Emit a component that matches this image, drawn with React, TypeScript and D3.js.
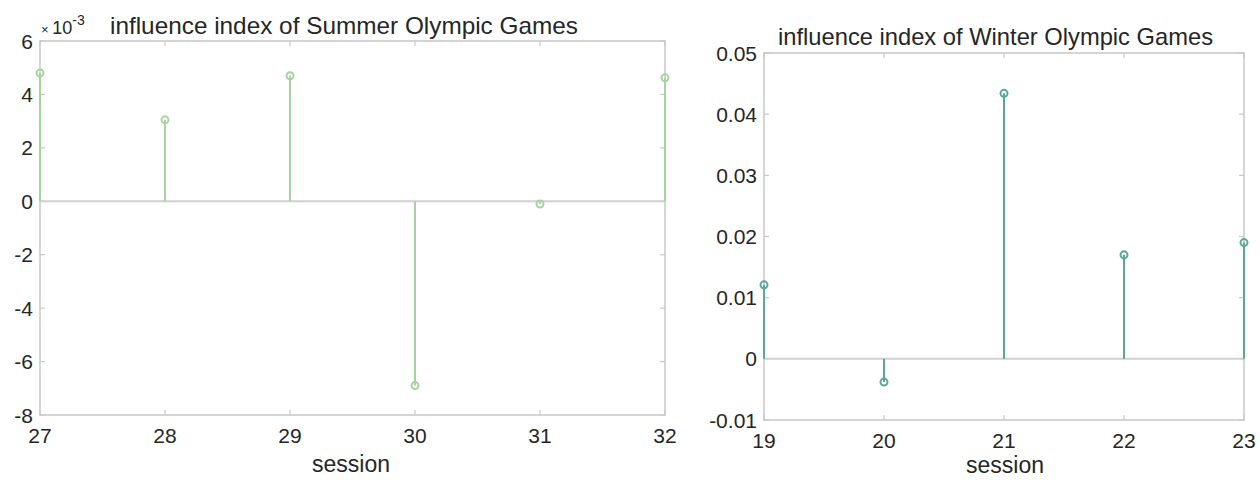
import { useEffect, useRef } from 'react'
import * as d3 from 'd3'

const summerSessions = [27, 28, 29, 30, 31, 32]
const summerValues = [4.8, 3.05, 4.7, -6.9, -0.1, 4.62] // x 10^-3
const summerYTicks = [-8, -6, -4, -2, 0, 2, 4, 6]

const winterSessions = [19, 20, 21, 22, 23]
const winterValues = [0.0121, -0.0038, 0.0434, 0.017, 0.019]
const winterYTicks = [-0.01, 0, 0.01, 0.02, 0.03, 0.04, 0.05]

const FONT = '"Liberation Sans", Arial, Helvetica, sans-serif'
const TEXT = '#262626'
const AXIS = '#c8c8c8'

interface PanelOpts {
  left: number
  right: number
  top: number
  bottom: number
  xs: number[]
  ys: number[]
  yDomain: [number, number]
  yTicks: number[]
  yFormat: (v: number) => string
  xLabelGap: number
  color: string
}

function drawPanel(svg: d3.Selection<SVGSVGElement, unknown, null, undefined>, o: PanelOpts) {
  const x = d3.scaleLinear()
    .domain(d3.extent(o.xs) as [number, number])
    .range([o.left, o.right])
  const y = d3.scaleLinear()
    .domain(o.yDomain)
    .range([o.bottom, o.top])

  const g = svg.append('g')

  // box
  g.append('rect')
    .attr('x', o.left).attr('y', o.top)
    .attr('width', o.right - o.left).attr('height', o.bottom - o.top)
    .attr('fill', 'none').attr('stroke', AXIS).attr('stroke-width', 1.5)

  // ticks, inward on all four sides
  const tl = 5
  o.xs.forEach(v => {
    g.append('line').attr('x1', x(v)).attr('x2', x(v)).attr('y1', o.bottom).attr('y2', o.bottom - tl)
      .attr('stroke', AXIS).attr('stroke-width', 1.2)
    g.append('line').attr('x1', x(v)).attr('x2', x(v)).attr('y1', o.top).attr('y2', o.top + tl)
      .attr('stroke', AXIS).attr('stroke-width', 1.2)
    g.append('text').attr('x', x(v)).attr('y', o.bottom + o.xLabelGap)
      .attr('text-anchor', 'middle').attr('font-size', 21).attr('fill', TEXT)
      .attr('font-family', FONT).text(String(v))
  })
  o.yTicks.forEach(v => {
    g.append('line').attr('x1', o.left).attr('x2', o.left + tl).attr('y1', y(v)).attr('y2', y(v))
      .attr('stroke', AXIS).attr('stroke-width', 1.2)
    g.append('line').attr('x1', o.right).attr('x2', o.right - tl).attr('y1', y(v)).attr('y2', y(v))
      .attr('stroke', AXIS).attr('stroke-width', 1.2)
    g.append('text').attr('x', o.left - 7).attr('y', y(v) + 7.5)
      .attr('text-anchor', 'end').attr('font-size', 21).attr('fill', TEXT)
      .attr('font-family', FONT).text(o.yFormat(v))
  })

  // baseline
  g.append('line').attr('x1', o.left).attr('x2', o.right).attr('y1', y(0)).attr('y2', y(0))
    .attr('stroke', '#d0d0d0').attr('stroke-width', 2)

  // stems
  const pts = o.xs.map((v, i) => ({ s: v, v: o.ys[i] }))
  g.selectAll('line.stem').data(pts).enter().append('line')
    .attr('class', 'stem')
    .attr('x1', d => x(d.s)).attr('x2', d => x(d.s))
    .attr('y1', y(0)).attr('y2', d => y(d.v))
    .attr('stroke', o.color).attr('stroke-width', 2)
  g.selectAll('circle').data(pts).enter().append('circle')
    .attr('cx', d => x(d.s)).attr('cy', d => y(d.v)).attr('r', 3.5)
    .attr('fill', 'none').attr('stroke', o.color).attr('stroke-width', 2)

  return { x, y }
}

export default function App() {
  const svgRef = useRef<SVGSVGElement>(null)

  useEffect(() => {
    if (!svgRef.current) return
    const svg = d3.select(svgRef.current)
    svg.selectAll('*').remove()

    drawPanel(svg, {
      left: 40, right: 665, top: 41, bottom: 415,
      xs: summerSessions, ys: summerValues,
      yDomain: [-8, 6], yTicks: summerYTicks,
      yFormat: v => String(v), xLabelGap: 28, color: '#a6d49e'
    })
    drawPanel(svg, {
      left: 764, right: 1244, top: 53, bottom: 420,
      xs: winterSessions, ys: winterValues,
      yDomain: [-0.01, 0.05], yTicks: winterYTicks,
      yFormat: v => (v === 0 ? '0' : String(+v.toFixed(2))), xLabelGap: 28, color: '#58a896'
    })

    // exponent label
    const ex = svg.append('text').attr('x', 41).attr('y', 34)
      .attr('font-family', FONT).attr('fill', TEXT).attr('font-size', 18)
    ex.append('tspan').attr('font-size', 13).text('× ')
    ex.append('tspan').text('10')
    ex.append('tspan').attr('font-size', 14).attr('dy', -9).text('-3')

    svg.append('text').attr('x', 110).attr('y', 34)
      .attr('font-family', FONT).attr('font-size', 24).attr('fill', TEXT)
      .attr('textLength', 468).attr('lengthAdjust', 'spacingAndGlyphs')
      .text('influence index of Summer Olympic Games')
    svg.append('text').attr('x', 778).attr('y', 45)
      .attr('font-family', FONT).attr('font-size', 24).attr('fill', TEXT)
      .attr('textLength', 435).attr('lengthAdjust', 'spacingAndGlyphs')
      .text('influence index of Winter Olympic Games')

    svg.append('text').attr('x', 351).attr('y', 472).attr('text-anchor', 'middle')
      .attr('font-family', FONT).attr('font-size', 23).attr('fill', TEXT).text('session')
    svg.append('text').attr('x', 1005).attr('y', 473).attr('text-anchor', 'middle')
      .attr('font-family', FONT).attr('font-size', 23).attr('fill', TEXT).text('session')
  }, [])

  return (
    <svg ref={svgRef} width={1260} height={480}
      style={{ position: 'absolute', left: 0, top: 0, background: '#fff' }} />
  )
}
